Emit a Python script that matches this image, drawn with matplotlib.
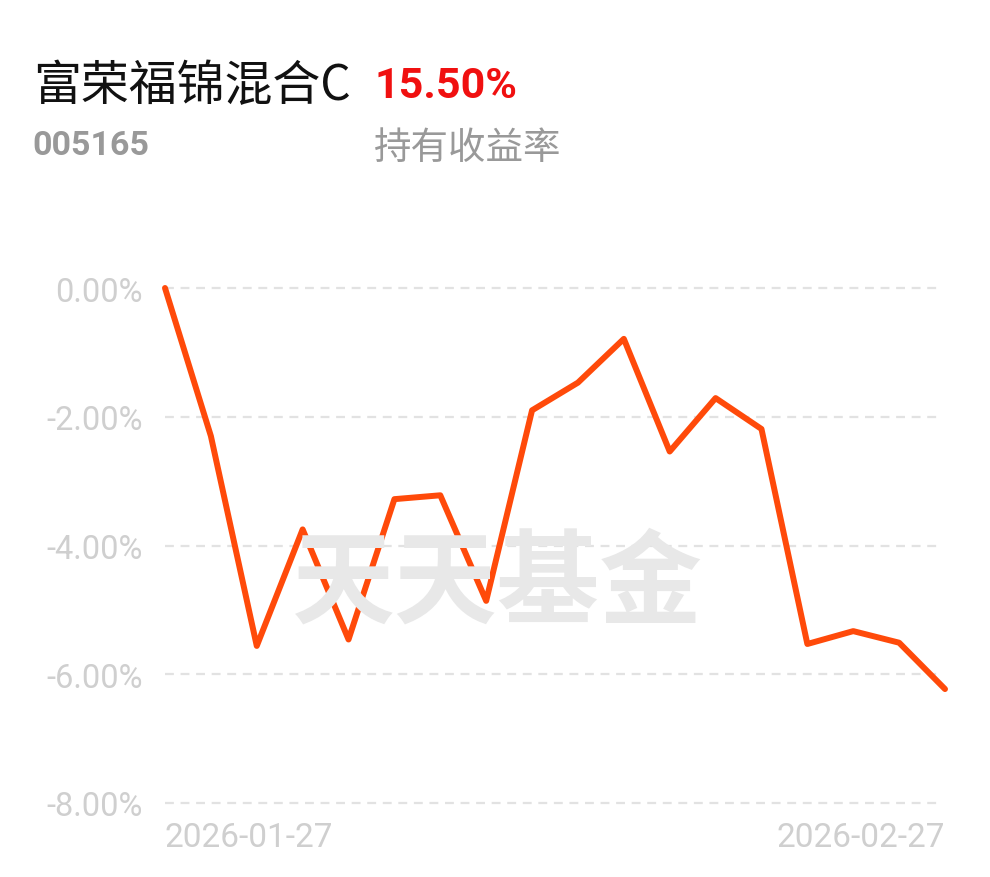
import matplotlib
matplotlib.use("Agg")
import matplotlib.pyplot as plt

# ---- data ----
dates = ["2026-01-27", "2026-02-27"]
returns = [0.00, -2.30, -5.56, -3.75, -5.46, -3.28, -3.22, -4.86, -1.90,
           -1.47, -0.79, -2.54, -1.71, -2.19, -5.53, -5.33, -5.51, -6.23]
yticks = [0, -2, -4, -6, -8]
fund_name = "富荣福锦混合C"
fund_code = "005165"
hold_return = "15.50%"
hold_label = "持有收益率"
watermark = "天天基金"

W, H = 990, 878
fig = plt.figure(figsize=(W / 100, H / 100), dpi=100)
fig.patch.set_facecolor("white")

def fx(px):
    return px / W

def fy(py):
    return 1 - py / H

left, right, top, bottom = 165, 945, 289, 804
ax = fig.add_axes([fx(left), fy(bottom), fx(right) - fx(left), fy(top) - fy(bottom)])
ax.set_facecolor("none")

x = list(range(len(returns)))
ax.set_xlim(0, len(returns) - 1)
ax.set_ylim(-8, 0)

for yv in yticks:
    ax.axhline(yv, color="#e2e2e2", lw=1.6, ls=(0, (4, 3)), zorder=1, clip_on=False,
               xmax=0.995)

ax.plot(x, returns, color="#ff4a0a", lw=4.3, solid_joinstyle="round",
        solid_capstyle="round", zorder=3, clip_on=False)

for s in ax.spines.values():
    s.set_visible(False)

ax.set_yticks(yticks)
ax.set_yticklabels([f"{v:.2f}%" for v in yticks], family=["Roboto", "DejaVu Sans"],
                   fontsize=23.5, color="#cfcfcf")
ax.tick_params(axis="y", length=0, pad=16)

ax.set_xticks([0, len(returns) - 1])
xl = ax.set_xticklabels(dates, family=["Roboto", "DejaVu Sans"], fontsize=24, color="#cfcfcf")
xl[0].set_horizontalalignment("left")
xl[1].set_horizontalalignment("right")
ax.tick_params(axis="x", length=0, pad=13)

# watermark
fig.text(fx(497), fy(585), watermark, family=["Noto Sans CJK SC"], fontweight="bold",
         fontsize=74, color="#e8e8e8", ha="center", va="center", zorder=0)

# header texts
fig.text(fx(33), fy(86), fund_name, family=["Noto Sans CJK SC", "DejaVu Sans"],
         fontsize=34.5, color="#111111", ha="left", va="center")
fig.text(fx(374), fy(87), hold_return, family=["Roboto", "DejaVu Sans"],
         fontweight="bold", fontsize=31, color="#f01010", ha="left", va="center")
fig.text(fx(32), fy(146), fund_code, family=["Roboto", "DejaVu Sans"],
         fontweight="bold", fontsize=24.5, color="#999999", ha="left", va="center")
fig.text(fx(374), fy(148), hold_label, family=["Noto Sans CJK SC", "DejaVu Sans"],
         fontsize=27, color="#999999", ha="left", va="center")

fig.savefig("out.png", dpi=100, facecolor="white")
